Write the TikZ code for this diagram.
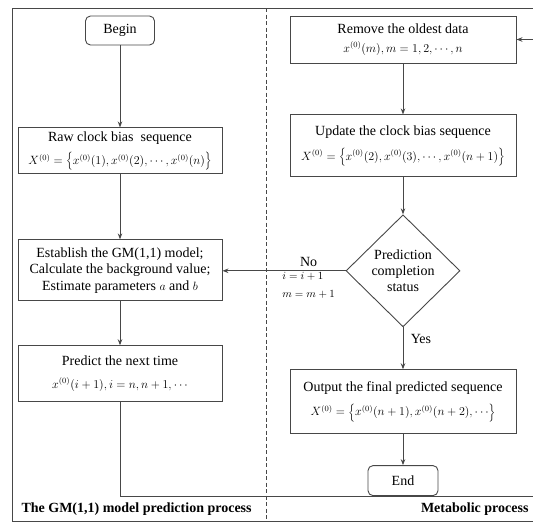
\documentclass[tikz,border=0pt]{standalone}
\usepackage{fontspec}
\setmainfont{Liberation Serif}
\usetikzlibrary{positioning,shapes.geometric,arrows.meta}
\definecolor{linegray}{HTML}{474747}
\newcommand{\mainsize}{\fontsize{14}{16.5}\selectfont}
\newcommand{\eqsize}{\fontsize{12}{14}\selectfont}

\begin{document}
\begin{tikzpicture}[x=1pt,y=-1pt,
    procbox/.style={draw=linegray, line width=0.9pt, minimum width=204pt, align=center, inner sep=2pt, font=\mainsize},
    termbox/.style={draw=linegray, line width=0.9pt, rounded corners=5pt, minimum width=69pt, minimum height=29pt, inner sep=2pt, font=\mainsize},
    decbox/.style={draw=linegray, line width=0.9pt, diamond, aspect=1, minimum width=114pt, minimum height=112pt, inner sep=0pt, align=center, font=\fontsize{14}{16}\selectfont},
    flow/.style={draw=linegray, line width=0.9pt, -{Stealth[length=6pt,width=4.5pt]}},
    frame/.style={draw=linegray, line width=1pt}]
	\useasboundingbox (0,0) rectangle (533,522);
	% Frame of the two processes
	\draw[frame] (540,8) -- (12,8) -- (12,521) -- (540,521);
	\draw[frame, dash pattern=on 4pt off 2.5pt] (266,8) -- (266,522);
	% Nodes for the GM(1,1) model (left)
	\node[termbox] (start) at (120,30.5) {Begin};
	\node[procbox, minimum height=46pt, inner ysep=1pt] (raw) [below=82pt of start] {Raw clock bias\ \ sequence\\[7pt] \eqsize $X^{(0)}=\left\{x^{(0)}(1),x^{(0)}(2),\cdots,x^{(0)}(n)\right\}$};
	\node[procbox, minimum height=61pt] (establish) [below=65pt of raw] {Establish the GM(1,1) model;\\ Calculate the background value;\\ Estimate parameters {\eqsize$a$} and {\eqsize$b$}};
	\node[procbox, minimum height=56pt] (predict) [below=44pt of establish] {Predict the next time\\[6pt] \eqsize $x^{(0)}(i+1),i=n,n+1,\cdots$};
	% Nodes for the metabolic process (right)
	\node[procbox, minimum width=226pt, minimum height=47pt] (remove) at (403,39.5) {Remove the oldest data\\[2pt] \eqsize $x^{(0)}(m),m=1,2,\cdots,n$};
	\node[procbox, minimum width=226pt, minimum height=62pt] (update) [below=51pt of remove] {Update the clock bias sequence\\[8pt] \eqsize $X^{(0)}=\left\{x^{(0)}(2),x^{(0)}(3),\cdots,x^{(0)}(n+1)\right\}$};
	\node[decbox] (dec) [below=37pt of update] {Prediction\\ completion\\ status};
	\node[procbox, minimum width=226pt, minimum height=64pt] (output) [below=42pt of dec] {Output the final predicted sequence\\[8pt] \eqsize $X^{(0)}=\left\{x^{(0)}(n+1),x^{(0)}(n+2),\cdots\right\}$};
	\node[termbox, minimum width=70pt, minimum height=30pt] (finish) [below=31pt of output] {End};
	% Arrows for the GM(1,1) model
	\draw[flow] (start) -- (raw);
	\draw[flow] (raw) -- (establish);
	\draw[flow] (establish) -- (predict);
	% Arrows for the metabolic process
	\draw[flow] (remove) -- (update);
	\draw[flow] (update) -- (dec);
	\draw[flow] (dec) -- node[right=4pt, pos=0.28, font=\mainsize] (yeslbl) {Yes} (output);
	\draw[flow] (output) -- (finish);
	\draw[flow] (dec.west) -- node[above, pos=0.3, font=\mainsize] (nolbl) {No} node[below, pos=0.3, align=left, font=\fontsize{11}{18}\selectfont, inner sep=1pt] (steplbl) {$i=i+1$\\ $m=m+1$} (dec.west -| establish.east);
	% Loop back to the oldest data
	\coordinate (loopcorner) at (540,496);
	\draw[flow] (predict.south) |- (loopcorner) |- (remove.east);
	% Labels
	\node[anchor=west, font=\mainsize\bfseries] (gmlabel) at (18,509) {The GM(1,1) model prediction process};
	\node[anchor=east, font=\mainsize\bfseries] (metalabel) at (532,509) {Metabolic process};
\end{tikzpicture}
\end{document}
